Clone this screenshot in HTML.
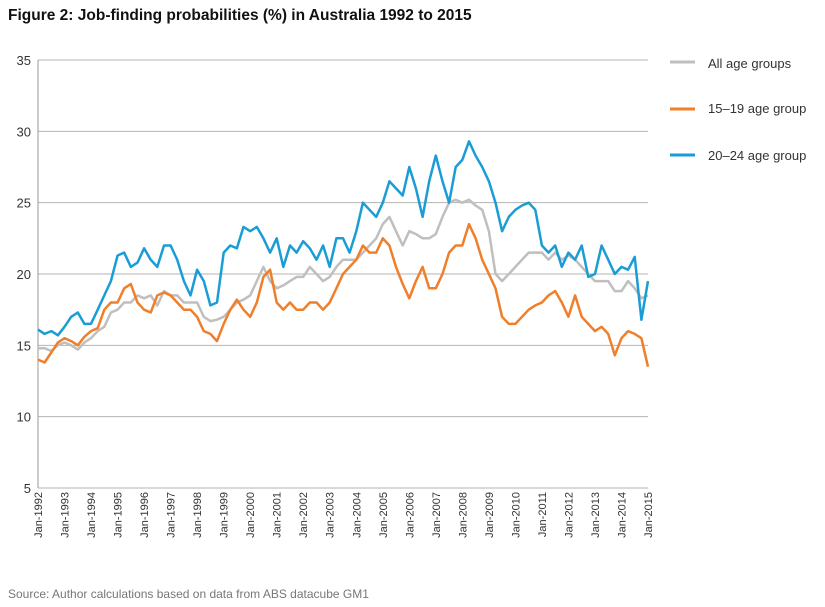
<!DOCTYPE html>
<html><head><meta charset="utf-8"><style>
body{margin:0;background:#fff;font-family:"Liberation Sans",sans-serif;}
#wrap{position:relative;width:825px;height:607px;overflow:hidden;}
</style></head><body>
<div id="wrap">
<svg id="chart" width="825" height="607">
<text x="8" y="20" font-size="15.5" font-weight="bold" fill="#111">Figure 2: Job-finding probabilities (%) in Australia 1992 to 2015</text>
<text x="8" y="598" font-size="12" fill="#777">Source: Author calculations based on data from ABS datacube GM1</text>
<g id="grid"></g><g id="axes"></g><g id="series"></g>
<g>
<g><line x1="670" y1="62" x2="695" y2="62" stroke="#bfbfbf" stroke-width="3"/><text x="708" y="68" font-size="13" fill="#333">All age groups</text></g>
<g><line x1="670" y1="109" x2="695" y2="109" stroke="#f07f2b" stroke-width="3"/><text x="708" y="113" font-size="13" fill="#333">15–19 age group</text></g>
<g><line x1="670" y1="155" x2="695" y2="155" stroke="#1a9dd6" stroke-width="3"/><text x="708" y="160" font-size="13" fill="#333">20–24 age group</text></g>
</g>
</svg>
</div>
<script>
const years = [];
for (let y = 1992; y <= 2015; y++) years.push(y);
const yTicks = [5,10,15,20,25,30,35];
const allAges = [14.8,14.8,14.6,15.0, 15.2,15.0,14.7,15.2, 15.5,16.0,16.3,17.3, 17.5,18.0,18.0,18.5, 18.3,18.5,17.8,18.8, 18.5,18.5,18.0,18.0, 18.0,17.0,16.7,16.8, 17.0,17.5,18.0,18.2, 18.5,19.5,20.5,19.5, 19.0,19.2,19.5,19.8, 19.8,20.5,20.0,19.5, 19.8,20.5,21.0,21.0, 21.0,21.5,22.0,22.5, 23.5,24.0,23.0,22.0, 23.0,22.8,22.5,22.5, 22.8,24.0,25.0,25.2, 25.0,25.2,24.8,24.5, 23.0,20.0,19.5,20.0, 20.5,21.0,21.5,21.5, 21.5,21.0,21.5,21.0, 21.3,21.0,20.5,20.0, 19.5,19.5,19.5,18.8, 18.8,19.5,19.0,18.3, 18.5];
const age1519 = [14.0,13.8,14.5,15.2, 15.5,15.3,15.0,15.6, 16.0,16.2,17.5,18.0, 18.0,19.0,19.3,18.0, 17.5,17.3,18.5,18.7, 18.5,18.0,17.5,17.5, 17.0,16.0,15.8,15.3, 16.5,17.5,18.2,17.5, 17.0,18.0,19.8,20.3, 18.0,17.5,18.0,17.5, 17.5,18.0,18.0,17.5, 18.0,19.0,20.0,20.5, 21.0,22.0,21.5,21.5, 22.5,22.0,20.5,19.3, 18.3,19.5,20.5,19.0, 19.0,20.0,21.5,22.0, 22.0,23.5,22.5,21.0, 20.0,19.0,17.0,16.5, 16.5,17.0,17.5,17.8, 18.0,18.5,18.8,18.0, 17.0,18.5,17.0,16.5, 16.0,16.3,15.8,14.3, 15.5,16.0,15.8,15.5, 13.5];
const age2024 = [16.1,15.8,16.0,15.7, 16.3,17.0,17.3,16.5, 16.5,17.5,18.5,19.5, 21.3,21.5,20.5,20.8, 21.8,21.0,20.5,22.0, 22.0,21.0,19.5,18.5, 20.3,19.5,17.8,18.0, 21.5,22.0,21.8,23.3, 23.0,23.3,22.5,21.5, 22.5,20.5,22.0,21.5, 22.3,21.8,21.0,22.0, 20.5,22.5,22.5,21.5, 23.0,25.0,24.5,24.0, 25.0,26.5,26.0,25.5, 27.5,26.0,24.0,26.5, 28.3,26.5,25.0,27.5, 28.0,29.3,28.3,27.5, 26.5,25.0,23.0,24.0, 24.5,24.8,25.0,24.5, 22.0,21.5,22.0,20.5, 21.5,21.0,22.0,19.8, 20.0,22.0,21.0,20.0, 20.5,20.3,21.2,16.8, 19.5];

const NS='http://www.w3.org/2000/svg';
const X0=38, X1=648, Y0=488, Y1=60;
function xScale(t){return X0+(t-1992)/23*(X1-X0);}
function yScale(v){return Y0-(v-5)/30*(Y0-Y1);}
const grid=document.getElementById('grid'), axes=document.getElementById('axes'), series=document.getElementById('series');
function mk(tag,attrs,parent){const e=document.createElementNS(NS,tag);for(const k in attrs)e.setAttribute(k,attrs[k]);parent.appendChild(e);return e;}
yTicks.forEach(v=>{
  const g=mk('line',{x1:X0,x2:X1,y1:yScale(v),y2:yScale(v),stroke:'#b3b3b3','stroke-width':1},grid);
  
  
  const t=mk('text',{x:31,y:yScale(v)+5,'text-anchor':'end','font-size':13,fill:'#333'},axes);
  t.textContent=v;
  
  
});
const ax=mk('line',{x1:X0,x2:X0,y1:Y1,y2:Y0,stroke:'#999','stroke-width':1},axes);


years.forEach(y=>{
  const x=xScale(y);
  const t=mk('text',{x:0,y:0,'text-anchor':'end','font-size':11,fill:'#333',transform:`translate(${x+4},${Y0+4}) rotate(-90)`},axes);
  t.textContent='Jan-'+y;
  
  
});
function drawSeries(vals,color,name){
  const pts=vals.map((v,i)=>xScale(1992+i*0.25).toFixed(1)+','+yScale(v).toFixed(1)).join(' ');
  const p=mk('polyline',{points:pts,fill:'none',stroke:color,'stroke-width':2.5,'stroke-linejoin':'round'},series);
  
  
}
drawSeries(allAges,'#bfbfbf','series-all-age-groups');
drawSeries(age1519,'#f07f2b','series-15-19-age-group');
drawSeries(age2024,'#1a9dd6','series-20-24-age-group');
</script>
</body></html>
